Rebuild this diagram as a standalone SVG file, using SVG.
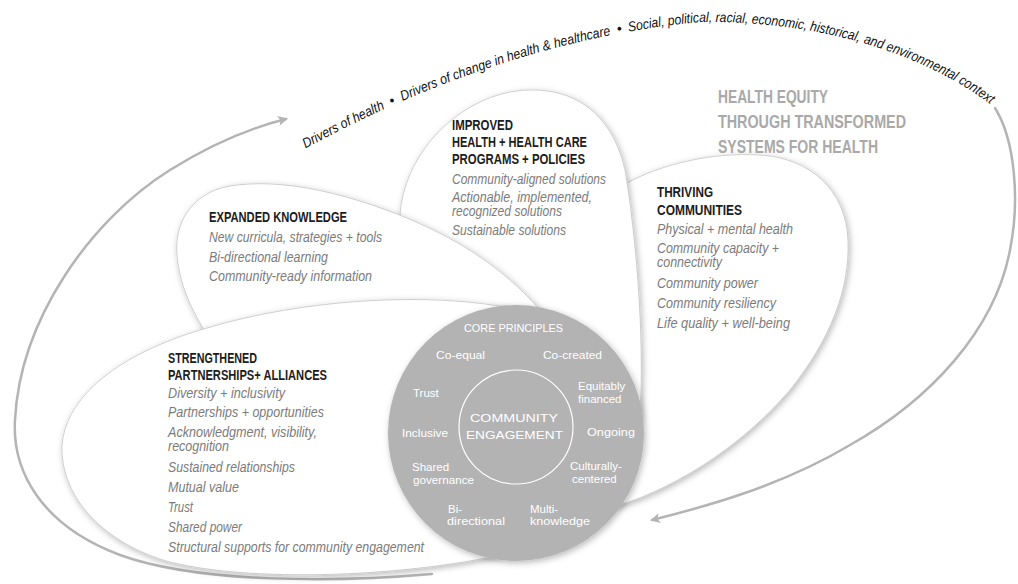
<svg xmlns="http://www.w3.org/2000/svg" width="1018" height="584" viewBox="0 0 1018 584">
<defs>
<filter id="sh" x="-15%" y="-15%" width="130%" height="130%"><feDropShadow dx="1.5" dy="2" stdDeviation="3" flood-color="#000" flood-opacity="0.28"/></filter>
<marker id="ah" viewBox="0 0 10 10" refX="8" refY="5" markerWidth="4" markerHeight="4" orient="auto" markerUnits="strokeWidth"><path d="M0,0 L10,5 L0,10 L2.5,5 Z" fill="#b4b4b4"/></marker>
<path id="arcPath" d="M 303,150 C 420,85 560,35 700,22 C 830,20 935,60 995,108"/>
</defs>
<style>
.petal{fill:#fff;stroke:#c4c4c4;stroke-width:0.8;filter:url(#sh)}
.h{font-family:"Liberation Sans",Arial,sans-serif;font-weight:bold;font-size:14px;fill:#1c1c1c}
.i{font-family:"Liberation Sans",Arial,sans-serif;font-style:italic;font-size:14px;fill:#7b7b7b}
.t{font-family:"Liberation Sans",Arial,sans-serif;font-weight:bold;font-size:19px;fill:#a9a9a9}
.c{font-family:"Liberation Sans",Arial,sans-serif;font-size:11.5px;fill:#ffffff}
.arc{font-family:"Liberation Sans",Arial,sans-serif;font-style:italic;font-size:14px;fill:#111}
.conn{fill:none;stroke:#b4b4b4;stroke-width:2.5;stroke-linecap:round}
</style>
<rect width="1018" height="584" fill="#ffffff"/>

<g id="connectors">
<path class="conn" d="M 432,574 C 340,582 200,584 120,555 C 40,525 12,470 15,420 C 20,320 90,220 170,170 C 210,145 250,128 286,119" marker-end="url(#ah)"/>
<path class="conn" d="M 995,108 C 1015,140 1020,200 1010,250 C 995,330 930,400 850,445 C 780,487 700,508 652,520" marker-end="url(#ah)"/>
</g>

<g id="thriving">
<path class="petal" d="M 560,440 L 600,510 C 650,500 730,460 790,390 C 830,340 850,290 848,240 C 846,190 810,158 760,155 C 710,152 660,165 627,183 C 600,200 585,300 560,440 Z"/>
<text class="h" x="657" y="197" textLength="56" lengthAdjust="spacingAndGlyphs">THRIVING</text>
<text class="h" x="657" y="215" textLength="85" lengthAdjust="spacingAndGlyphs">COMMUNITIES</text>
<text class="i" x="657" y="234" textLength="136" lengthAdjust="spacingAndGlyphs">Physical + mental health</text>
<text class="i"><tspan x="657" y="253" textLength="122" lengthAdjust="spacingAndGlyphs">Community capacity +</tspan><tspan x="657" y="267" textLength="65" lengthAdjust="spacingAndGlyphs">connectivity</tspan></text>
<text class="i" x="657" y="288" textLength="101" lengthAdjust="spacingAndGlyphs">Community power</text>
<text class="i" x="657" y="308" textLength="119" lengthAdjust="spacingAndGlyphs">Community resiliency</text>
<text class="i" x="657" y="328" textLength="133" lengthAdjust="spacingAndGlyphs">Life quality + well-being</text>
</g>

<g id="improved">
<path class="petal" d="M 500,400 C 430,330 390,260 402,200 C 414,140 470,92 528,90 C 585,88 615,125 625,170 C 635,230 645,330 640,420 Z"/>
<text class="h" x="452" y="130" textLength="61" lengthAdjust="spacingAndGlyphs">IMPROVED</text>
<text class="h" x="452" y="147" textLength="135" lengthAdjust="spacingAndGlyphs">HEALTH + HEALTH CARE</text>
<text class="h" x="452" y="164" textLength="133" lengthAdjust="spacingAndGlyphs">PROGRAMS + POLICIES</text>
<text class="i" x="452" y="184" textLength="154" lengthAdjust="spacingAndGlyphs">Community-aligned solutions</text>
<text class="i"><tspan x="452" y="202" textLength="140" lengthAdjust="spacingAndGlyphs">Actionable, implemented,</tspan><tspan x="452" y="216" textLength="110" lengthAdjust="spacingAndGlyphs">recognized solutions</tspan></text>
<text class="i" x="452" y="235" textLength="114" lengthAdjust="spacingAndGlyphs">Sustainable solutions</text>
</g>

<g id="expanded-knowledge">
<path class="petal" d="M 540,310 C 500,264 452,236 397,214 C 340,192 280,178 230,186 C 190,193 174,225 177,255 C 180,290 195,315 210,340 L 480,360 Z"/>
<text class="h" x="209" y="222" textLength="138" lengthAdjust="spacingAndGlyphs">EXPANDED KNOWLEDGE</text>
<text class="i" x="209" y="242" textLength="173" lengthAdjust="spacingAndGlyphs">New curricula, strategies + tools</text>
<text class="i" x="209" y="262" textLength="119" lengthAdjust="spacingAndGlyphs">Bi-directional learning</text>
<text class="i" x="209" y="281" textLength="163" lengthAdjust="spacingAndGlyphs">Community-ready information</text>
</g>

<g id="strengthened-partnerships">
<path class="petal" d="M 520,310 C 430,290 300,300 207,328 C 130,350 67,390 62,445 C 60,500 108,545 170,562 C 250,582 400,578 510,553 Z"/>
<text class="h" x="168" y="363" textLength="89" lengthAdjust="spacingAndGlyphs">STRENGTHENED</text>
<text class="h" x="168" y="380" textLength="159" lengthAdjust="spacingAndGlyphs">PARTNERSHIPS+ ALLIANCES</text>
<text class="i" x="168" y="398" textLength="117" lengthAdjust="spacingAndGlyphs">Diversity + inclusivity</text>
<text class="i" x="168" y="417" textLength="156" lengthAdjust="spacingAndGlyphs">Partnerships + opportunities</text>
<text class="i"><tspan x="168" y="437" textLength="149" lengthAdjust="spacingAndGlyphs">Acknowledgment, visibility,</tspan><tspan x="168" y="451" textLength="61" lengthAdjust="spacingAndGlyphs">recognition</tspan></text>
<text class="i" x="168" y="472" textLength="127" lengthAdjust="spacingAndGlyphs">Sustained relationships</text>
<text class="i" x="168" y="492" textLength="71" lengthAdjust="spacingAndGlyphs">Mutual value</text>
<text class="i" x="168" y="512" textLength="25" lengthAdjust="spacingAndGlyphs">Trust</text>
<text class="i" x="168" y="532" textLength="74" lengthAdjust="spacingAndGlyphs">Shared power</text>
<text class="i" x="168" y="552" textLength="256" lengthAdjust="spacingAndGlyphs">Structural supports for community engagement</text>
</g>

<g id="core-principles">
<circle cx="516" cy="433" r="128" fill="#b3b3b3" filter="url(#sh)"/>
<circle cx="516" cy="427" r="57" fill="none" stroke="#ffffff" stroke-width="1.2"/>
<text class="c" x="464" y="332" font-size="12.5" fill="#f2f2f2" textLength="99" lengthAdjust="spacingAndGlyphs">CORE PRINCIPLES</text>
<text class="c" x="436" y="359" textLength="49" lengthAdjust="spacingAndGlyphs">Co-equal</text>
<text class="c" x="543" y="359" textLength="59" lengthAdjust="spacingAndGlyphs">Co-created</text>
<text class="c" x="413" y="397">Trust</text>
<text class="c"><tspan x="578" y="390">Equitably</tspan><tspan x="578" y="402.5">financed</tspan></text>
<text class="c" font-size="15"><tspan x="470" y="422" textLength="88" lengthAdjust="spacingAndGlyphs">COMMUNITY</tspan><tspan x="466" y="439" textLength="97" lengthAdjust="spacingAndGlyphs">ENGAGEMENT</tspan></text>
<text class="c" x="402" y="437" textLength="46" lengthAdjust="spacingAndGlyphs">Inclusive</text>
<text class="c" x="587" y="436" textLength="48" lengthAdjust="spacingAndGlyphs">Ongoing</text>
<text class="c"><tspan x="412" y="471">Shared</tspan><tspan x="413" y="483.5" textLength="61" lengthAdjust="spacingAndGlyphs">governance</tspan></text>
<text class="c"><tspan x="570" y="470">Culturally-</tspan><tspan x="572" y="482.5">centered</tspan></text>
<text class="c"><tspan x="448" y="512.5">Bi-</tspan><tspan x="447" y="525" textLength="58" lengthAdjust="spacingAndGlyphs">directional</tspan></text>
<text class="c"><tspan x="530" y="512.5">Multi-</tspan><tspan x="530" y="525" textLength="60" lengthAdjust="spacingAndGlyphs">knowledge</tspan></text>
</g>

<g id="goal-heading">
<text class="t" x="718" y="103" textLength="110" lengthAdjust="spacingAndGlyphs">HEALTH EQUITY</text>
<text class="t" x="718" y="128" textLength="188" lengthAdjust="spacingAndGlyphs">THROUGH TRANSFORMED</text>
<text class="t" x="718" y="153" textLength="160" lengthAdjust="spacingAndGlyphs">SYSTEMS FOR HEALTH</text>
</g>

<g id="context-arc">
<text class="arc"><textPath href="#arcPath" startOffset="3" textLength="89" lengthAdjust="spacingAndGlyphs">Drivers of health</textPath></text>
<text class="arc"><textPath href="#arcPath" startOffset="99">•</textPath></text>
<text class="arc"><textPath href="#arcPath" startOffset="111" textLength="219" lengthAdjust="spacingAndGlyphs">Drivers of change in health &amp; healthcare</textPath></text>
<text class="arc"><textPath href="#arcPath" startOffset="337">•</textPath></text>
<text class="arc"><textPath href="#arcPath" startOffset="348" textLength="179" lengthAdjust="spacingAndGlyphs">Social, political, racial, economic,</textPath></text>
<text class="arc"><textPath href="#arcPath" startOffset="530" textLength="51" lengthAdjust="spacingAndGlyphs">historical,</textPath></text>
<text class="arc"><textPath href="#arcPath" startOffset="585" textLength="142" lengthAdjust="spacingAndGlyphs">and environmental context</textPath></text>
</g>
</svg>
